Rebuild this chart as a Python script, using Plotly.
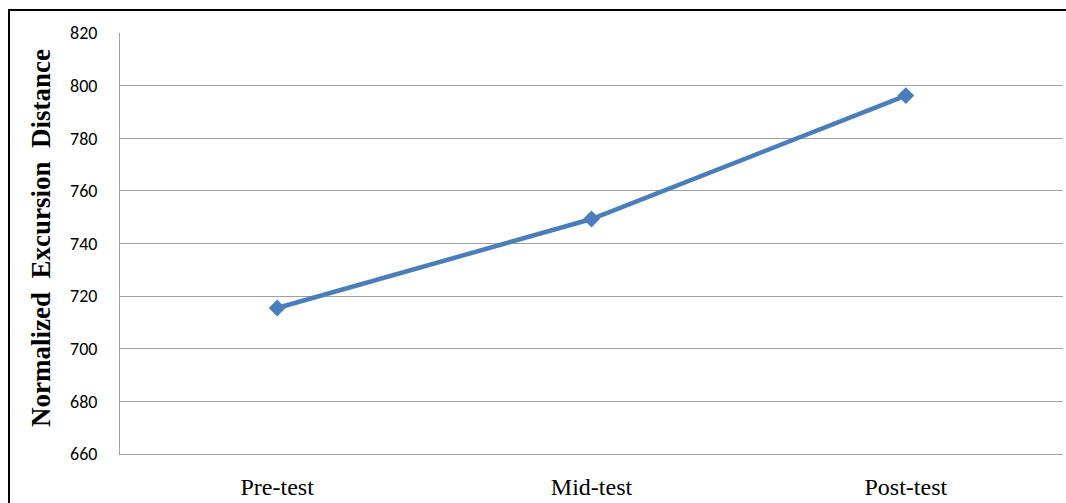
import plotly.graph_objects as go

# Test phases and mean normalized excursion distance
phases = ["Pre-test", "Mid-test", "Post-test"]
distance = [715.5, 749.3, 796.2]

y_ticks = [660, 680, 700, 720, 740, 760, 780, 800, 820]

W, H = 1066, 503
L, R, T, B = 120, 3, 33, 49
pw, ph = W - L - R, H - T - B


def px_x(px):
    return (px - L) / pw


def px_y(py):
    return (H - B - py) / ph


fig = go.Figure(
    go.Scatter(
        x=phases,
        y=distance,
        mode="lines+markers",
        line=dict(color="#4A7EBB", width=4.5),
        marker=dict(symbol="diamond", size=13, color="#4A7EBB"),
        showlegend=False,
    )
)

fig.update_layout(
    width=W,
    height=H,
    margin=dict(l=L, r=R, t=T, b=B, autoexpand=False),
    paper_bgcolor="white",
    plot_bgcolor="white",
    xaxis=dict(
        range=[-0.5, 2.5],
        automargin=False,
        showgrid=False,
        showline=True,
        linecolor="#A0A0A0",
        linewidth=1,
        ticks="",
        ticklabelstandoff=11,
        tickfont=dict(family="Liberation Serif, Times New Roman, serif", size=24, color="#000000"),
        zeroline=False,
    ),
    yaxis=dict(
        range=[660, 820],
        automargin=False,
        tickvals=y_ticks,
        showgrid=True,
        gridcolor="#A0A0A0",
        gridwidth=1,
        showline=True,
        linecolor="#A0A0A0",
        linewidth=1,
        ticks="",
        ticklabelstandoff=18,
        tickfont=dict(family="Carlito, Lato, sans-serif", size=18, color="#000000"),
        zeroline=False,
    ),
    annotations=[
        dict(
            text="<b>Normalized  Excursion  Distance</b>",
            textangle=-90,
            xref="paper",
            yref="paper",
            x=px_x(41),
            y=px_y(238),
            xanchor="center",
            yanchor="middle",
            showarrow=False,
            font=dict(family="Liberation Serif, Times New Roman, serif", size=27, color="#000000"),
        )
    ],
    shapes=[
        dict(
            type="rect",
            xref="paper",
            yref="paper",
            x0=px_x(9),
            x1=px_x(W + 10),
            y0=px_y(H + 10),
            y1=px_y(10),
            line=dict(color="#000000", width=2),
            layer="above",
        )
    ],
)

fig.write_html("out.html")
